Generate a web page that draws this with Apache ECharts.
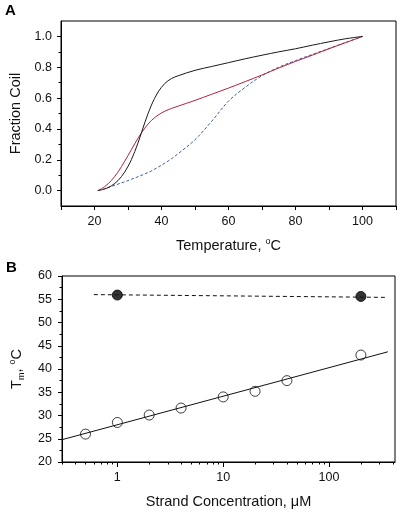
<!DOCTYPE html>
<html>
<head>
<meta charset="utf-8">
<script src="https://cdn.jsdelivr.net/npm/echarts@6/dist/echarts.min.js"></script>
<style>
html,body{margin:0;padding:0;background:#fff;}
#c{width:402px;height:518px;}
</style>
</head>
<body>
<div id="c"></div>
<script>
// ---- Panel A data ----
const temps      = [21, 23, 25, 27, 29, 31, 33, 35, 37, 39, 41, 43, 45, 50, 55, 60, 65, 70, 75, 80, 85, 90, 95, 100];
const blackCurve = [0, 0.01, 0.03, 0.065, 0.12, 0.2, 0.31, 0.44, 0.555, 0.64, 0.695, 0.727, 0.745, 0.78, 0.805, 0.83, 0.855, 0.878, 0.9, 0.92, 0.943, 0.965, 0.985, 1.0];
const redCurve   = [0, 0.025, 0.065, 0.12, 0.19, 0.265, 0.34, 0.405, 0.455, 0.49, 0.515, 0.533, 0.548, 0.585, 0.625, 0.665, 0.707, 0.75, 0.795, 0.838, 0.878, 0.92, 0.96, 1.0];
const blueCurve  = [0, 0.012, 0.027, 0.042, 0.057, 0.073, 0.09, 0.108, 0.128, 0.152, 0.178, 0.207, 0.24, 0.33, 0.45, 0.58, 0.67, 0.745, 0.8, 0.843, 0.883, 0.922, 0.961, 1.0];
const aXTicks  = [10, 20, 30, 40, 50, 60, 70, 80, 90, 100, 110];
const aXLabels = [20, 40, 60, 80, 100];
const aYMajor  = [0, 0.2, 0.4, 0.6, 0.8, 1.0];
const aYMinor  = [0.1, 0.3, 0.5, 0.7, 0.9];

// ---- Panel B data ----
const concOpen   = [0.5, 1, 2, 4, 10, 20, 40, 200];
const tmOpen     = [26.0, 28.5, 30.1, 31.6, 34.0, 35.2, 37.5, 43.0];
const concFilled = [1, 200];
const tmFilled   = [55.9, 55.6];
const fitX  = [0.3, 360];
const fitY  = [24.8, 43.7];
const dashX = [0.6, 350];
const dashY = [56.0, 55.4];
const bXMajor = [1, 10, 100];
const bXMinor = [0.3, 0.4, 0.5, 0.6, 0.7, 0.8, 0.9, 2, 3, 4, 5, 6, 7, 8, 9, 20, 30, 40, 50, 60, 70, 80, 90, 200, 300, 400];

const zip = (xs, ys) => xs.map((x, i) => [x, ys[i]]);
const FONT = "'Liberation Sans', Arial, sans-serif";
const axisLineStyle = {show: true, onZero: false, lineStyle: {color: '#000', width: 1}};
const labelStyle = {color: '#111', fontFamily: FONT, fontSize: 12.5};
const nameStyleRich = {
  fontFamily: FONT, fontSize: 14.5, color: '#111',
  rich: {
    t: {fontFamily: FONT, fontSize: 14.5, color: '#111', lineHeight: 18},
    sup: {fontFamily: FONT, fontSize: 9, color: '#111', verticalAlign: 'top', lineHeight: 18},
    sub: {fontFamily: FONT, fontSize: 9, color: '#111', verticalAlign: 'bottom', lineHeight: 18}
  }
};

const chart = echarts.init(document.getElementById('c'), null, {renderer: 'canvas'});
chart.setOption({
  animation: false,
  backgroundColor: '#fff',
  graphic: [
    {type: 'text', left: 5, top: 3, style: {text: 'A', font: 'bold 15px ' + FONT, fill: '#000'}},
    {type: 'text', left: 6, top: 260, style: {text: 'B', font: 'bold 15px ' + FONT, fill: '#000'}}
  ],
  grid: [
    {left: 59, top: 21, width: 337, height: 185, show: true, borderColor: '#000', borderWidth: 1, backgroundColor: 'transparent'},
    {left: 58, top: 276, width: 337, height: 186, show: true, borderColor: '#000', borderWidth: 1, backgroundColor: 'transparent'}
  ],
  xAxis: [
    {
      gridIndex: 0, type: 'value', min: 10, max: 110, position: 'bottom',
      name: '{t|Temperature, }{sup|o}{t|C}', nameLocation: 'middle', nameGap: 31, nameTextStyle: nameStyleRich,
      axisLine: axisLineStyle,
      axisTick: {show: true, inside: false, length: 4, customValues: aXTicks, lineStyle: {color: '#000'}},
      axisLabel: Object.assign({margin: 9, customValues: aXLabels}, labelStyle),
      splitLine: {show: false}
    },
    {
      gridIndex: 1, type: 'log', logBase: 10, min: 0.3, max: 420, position: 'bottom',
      name: 'Strand Concentration, μM', nameLocation: 'middle', nameGap: 32,
      nameTextStyle: {fontFamily: FONT, fontSize: 14.5, color: '#111'},
      axisLine: axisLineStyle,
      axisTick: {show: true, inside: false, length: 5, customValues: bXMajor, lineStyle: {color: '#000'}},
      axisLabel: Object.assign({margin: 9, customValues: bXMajor, formatter: v => String(v)}, labelStyle),
      splitLine: {show: false}
    },
    {
      gridIndex: 1, type: 'log', logBase: 10, min: 0.3, max: 420, position: 'bottom', offset: 0,
      axisLine: {show: false, onZero: false},
      axisTick: {show: true, inside: false, length: 2.5, customValues: bXMinor, lineStyle: {color: '#000'}},
      axisLabel: {show: false},
      splitLine: {show: false}
    }
  ],
  yAxis: [
    {
      gridIndex: 0, type: 'value', min: -0.1, max: 1.1, position: 'left',
      name: 'Fraction Coil', nameLocation: 'middle', nameGap: 38, nameRotate: 90,
      nameTextStyle: {fontFamily: FONT, fontSize: 14.5, color: '#111'},
      axisLine: axisLineStyle,
      axisTick: {show: true, inside: false, length: 4, customValues: aYMajor, lineStyle: {color: '#000'}},
      axisLabel: Object.assign({margin: 9, customValues: aYMajor, formatter: v => Number(v).toFixed(1)}, labelStyle),
      splitLine: {show: false}
    },
    {
      gridIndex: 0, type: 'value', min: -0.1, max: 1.1, position: 'left', offset: 0,
      axisLine: {show: false, onZero: false},
      axisTick: {show: true, inside: false, length: 2.5, customValues: aYMinor, lineStyle: {color: '#000'}},
      axisLabel: {show: false},
      splitLine: {show: false}
    },
    {
      gridIndex: 1, type: 'value', min: 20, max: 60, interval: 5, position: 'left',
      name: '{t|T}{sub|m}{t|, }{sup|o}{t|C}', nameLocation: 'middle', nameGap: 36, nameRotate: 90,
      nameTextStyle: nameStyleRich,
      axisLine: axisLineStyle,
      axisTick: {show: true, inside: false, length: 4, lineStyle: {color: '#000'}},
      minorTick: {show: true, splitNumber: 2, length: 2.5, lineStyle: {color: '#000'}},
      axisLabel: Object.assign({margin: 10}, labelStyle),
      splitLine: {show: false},
      minorSplitLine: {show: false}
    }
  ],
  series: [
    {type: 'line', xAxisIndex: 0, yAxisIndex: 0, data: zip(temps, blueCurve), smooth: 0.35, showSymbol: false,
     lineStyle: {color: '#3b5ea8', width: 1, type: [3, 2]}},
    {type: 'line', xAxisIndex: 0, yAxisIndex: 0, data: zip(temps, redCurve), smooth: 0.35, showSymbol: false,
     lineStyle: {color: '#b5223a', width: 1}},
    {type: 'line', xAxisIndex: 0, yAxisIndex: 0, data: zip(temps, blackCurve), smooth: 0.35, showSymbol: false,
     lineStyle: {color: '#1a1a1a', width: 1}},
    {type: 'line', xAxisIndex: 1, yAxisIndex: 2, data: zip(fitX, fitY), showSymbol: false,
     lineStyle: {color: '#111', width: 1}},
    {type: 'line', xAxisIndex: 1, yAxisIndex: 2, data: zip(dashX, dashY), showSymbol: false,
     lineStyle: {color: '#111', width: 1, type: [4, 3]}},
    {type: 'scatter', xAxisIndex: 1, yAxisIndex: 2, data: zip(concOpen, tmOpen), symbol: 'circle', symbolSize: 10,
     itemStyle: {color: '#fff', borderColor: '#111', borderWidth: 1}},
    {type: 'scatter', xAxisIndex: 1, yAxisIndex: 2, data: zip(concFilled, tmFilled), symbol: 'circle', symbolSize: 10,
     itemStyle: {color: '#000', borderColor: '#000', borderWidth: 1}}
  ]
});
</script>
</body>
</html>
